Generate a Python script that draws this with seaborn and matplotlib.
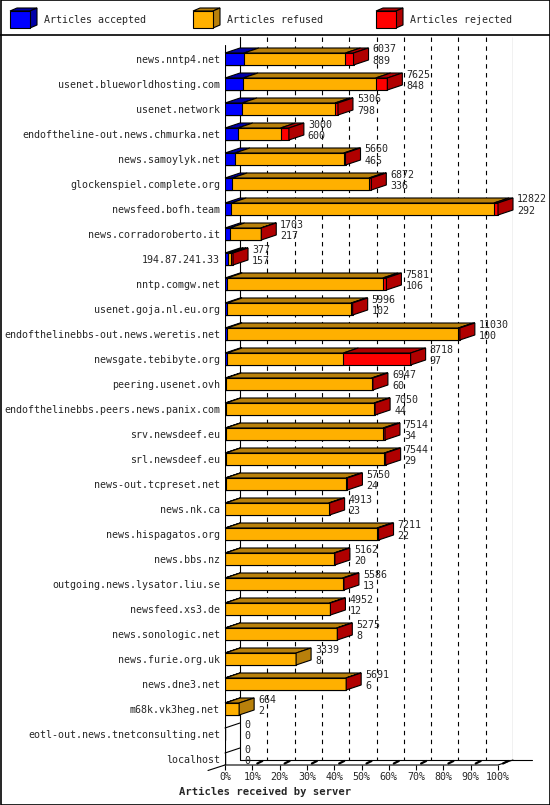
import numpy as np
import matplotlib
matplotlib.use("Agg")
import matplotlib.pyplot as plt
from matplotlib.patches import Polygon, Rectangle
import seaborn as sns

# -----------------------------
# Data
# -----------------------------
servers = [
    "news.nntp4.net", "usenet.blueworldhosting.com", "usenet.network",
    "endoftheline-out.news.chmurka.net", "news.samoylyk.net",
    "glockenspiel.complete.org", "newsfeed.bofh.team", "news.corradoroberto.it",
    "194.87.241.33", "nntp.comgw.net", "usenet.goja.nl.eu.org",
    "endofthelinebbs-out.news.weretis.net", "newsgate.tebibyte.org",
    "peering.usenet.ovh", "endofthelinebbs.peers.news.panix.com",
    "srv.newsdeef.eu", "srl.newsdeef.eu", "news-out.tcpreset.net", "news.nk.ca",
    "news.hispagatos.org", "news.bbs.nz", "outgoing.news.lysator.liu.se",
    "newsfeed.xs3.de", "news.sonologic.net", "news.furie.org.uk", "news.dne3.net",
    "m68k.vk3heg.net", "eotl-out.news.tnetconsulting.net", "localhost",
]
offered = [6037, 7625, 5306, 3000, 5660, 6872, 12822, 1703, 377, 7581, 5996,
           11030, 8718, 6947, 7050, 7514, 7544, 5750, 4913, 7211, 5162, 5586,
           4952, 5275, 3339, 5691, 664, 0, 0]
accepted = [889, 848, 798, 600, 465, 336, 292, 217, 157, 106, 102, 100, 97,
            60, 44, 34, 29, 24, 23, 22, 20, 13, 12, 8, 8, 6, 2, 0, 0]
rejected = [380, 550, 140, 390, 80, 110, 190, 20, 90, 170, 70, 70, 3160,
            60, 50, 90, 60, 60, 40, 70, 40, 60, 40, 30, 0, 10, 0, 0, 0]
ticks_pct = [0, 10, 20, 30, 40, 50, 60, 70, 80, 90, 100]

offered = np.array(offered)
accepted = np.array(accepted)
rejected = np.array(rejected)
refused = offered - accepted - rejected

front = ["#0000ff", "#ffb000", "#ff0000"]
dark = ["#0000a8", "#b8800b", "#b00000"]

sns.set_style("white")
plt.rcParams["font.family"] = ["DejaVu Sans Mono"]
plt.rcParams["font.size"] = 7.2

W, H = 550, 805
fig = plt.figure(figsize=(W / 100, H / 100), dpi=100)

# background layer in pixel units: frame, legend
bg = fig.add_axes([0, 0, 1, 1], zorder=0)
bg.set_xlim(0, W)
bg.set_ylim(H, 0)
bg.axis("off")
bg.add_patch(Rectangle((0.5, 0.5), W - 1, H - 1, fill=False, ec="black", lw=1.2))
bg.plot([0, W], [35, 35], color="black", lw=1.2)

leg_x = [10, 193, 376]
leg_txt = ["Articles accepted", "Articles refused", "Articles rejected"]
for lx, c, d, t in zip(leg_x, front, dark, leg_txt):
    bg.add_patch(Polygon([(lx, 11), (lx + 7, 8), (lx + 27, 8), (lx + 20, 11)],
                         fc=d, ec="black", lw=0.8))
    bg.add_patch(Polygon([(lx + 20, 11), (lx + 27, 8), (lx + 27, 25), (lx + 20, 28)],
                         fc=d, ec="black", lw=0.8))
    bg.add_patch(Rectangle((lx, 11), 20, 17, fc=c, ec="black", lw=0.8))
    bg.text(lx + 34, 20, t, va="center", ha="left")

bg.text(265, 792, "Articles received by server", ha="center", va="center",
        fontweight="bold", fontsize=7.6)

# -----------------------------
# Bar area
# -----------------------------
MAX = offered.max()
FRONT_W, DX_PX, DY_PX, ROW_PX = 273, 15, 5, 25
px = MAX / FRONT_W
dx = DX_PX * px
dy = DY_PX / ROW_PX
h = 12 / ROW_PX
top_px, bot_px, first_row = 37, 765, 59
y_top = -(first_row - top_px) / ROW_PX
y_bot = (bot_px - first_row) / ROW_PX

ax = fig.add_axes([225 / W, (H - bot_px) / H, (FRONT_W + DX_PX) / W,
                   (bot_px - top_px) / H], zorder=1)
ax.patch.set_alpha(0)

totals = accepted + refused + rejected
layers = [totals, accepted + refused, accepted]
for vals, c in zip(layers, [front[2], front[1], front[0]]):
    sns.barplot(x=vals, y=servers, orient="y", color=c, saturation=1,
                width=h, edgecolor="black", linewidth=0.8, errorbar=None,
                ax=ax, zorder=3)

rows = np.arange(len(servers))
for i in rows:
    segs = [accepted[i], refused[i], rejected[i]]
    yt = i - h / 2
    yb = i + h / 2
    start = 0
    last = None
    for k, s in enumerate(segs):
        if s <= 0:
            continue
        end = start + s
        ax.add_patch(Polygon([(start, yt), (start + dx, yt - dy), (end + dx, yt - dy), (end, yt)],
                             fc=dark[k], ec="black", lw=0.8, zorder=3, clip_on=False))
        start = end
        last = k
    if last is None:
        ax.plot([0, dx], [yt, yt - dy], color="black", lw=0.8, zorder=3, clip_on=False)
    else:
        T = totals[i]
        ax.add_patch(Polygon([(T, yt), (T + dx, yt - dy), (T + dx, yb - dy), (T, yb)],
                             fc=dark[last], ec="black", lw=0.8, zorder=3, clip_on=False))
    tx = totals[i] + dx + 4 * px
    ax.text(tx, i - 9.5 / ROW_PX, str(offered[i]), va="center", ha="left", zorder=4)
    ax.text(tx, i + 2 / ROW_PX, str(accepted[i]), va="center", ha="left", zorder=4)

# back grid, walls and floor
for p in ticks_pct[1:-1]:
    gx = MAX * p / 100 + dx
    ax.plot([gx, gx], [y_top, y_bot - dy], color="black", lw=0.8,
            ls=(0, (4, 4)), zorder=1, clip_on=False)
ax.plot([MAX + dx, MAX + dx], [y_top, y_bot - dy], color="black", lw=0.8, zorder=1)
ax.plot([dx, dx], [y_top, y_bot - dy], color="black", lw=0.8, zorder=1)
ax.plot([0, 0], [y_top + 8 / ROW_PX, y_bot], color="black", lw=0.8, zorder=2)
ax.plot([0, MAX, MAX + dx], [y_bot, y_bot, y_bot - dy], color="black", lw=0.8,
        zorder=2, clip_on=False)
ax.plot([dx, MAX + dx + 19 * px], [y_bot - dy, y_bot - dy], color="black",
        lw=0.8, zorder=2, clip_on=False)
ax.plot([-17 * px, 0], [y_bot + 5.5 / ROW_PX, y_bot], color="black", lw=0.8,
        zorder=2, clip_on=False)
for p in ticks_pct[1:]:
    fx = MAX * p / 100
    ax.plot([fx + 5 * px, fx + 10 * px], [y_bot - 1.5 / ROW_PX, y_bot - 4 / ROW_PX],
            color="black", lw=1.6, zorder=2, clip_on=False)

ax.set_xlim(0, MAX * (FRONT_W + DX_PX) / FRONT_W)
ax.set_ylim(y_bot, y_top)
ax.set_xticks([MAX * p / 100 for p in ticks_pct])
ax.set_xticklabels([f"{p}%" for p in ticks_pct])
ax.tick_params(axis="x", direction="out", length=3.5, width=0.8, color="black",
               pad=1.5, bottom=True)
ax.tick_params(axis="y", length=0, pad=3.6)
ax.set_xlabel("")
ax.set_ylabel("")
for sp in ax.spines.values():
    sp.set_visible(False)

fig.savefig("out.png", dpi=100)
